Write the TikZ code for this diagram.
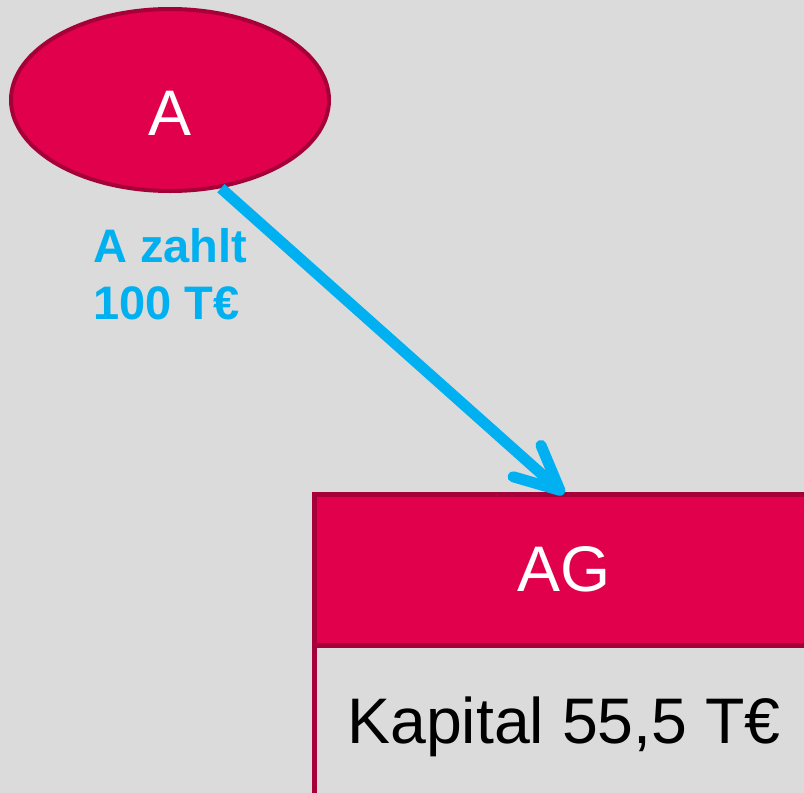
\documentclass[tikz,border=0pt]{standalone}
\usepackage{fontspec}
\setmainfont{Liberation Sans}
\usetikzlibrary{positioning,shapes.geometric,arrows.meta}
\definecolor{dbrot}{HTML}{E0004B}
\definecolor{dbrand}{HTML}{A6003A}
\definecolor{zahlblau}{HTML}{00B0F0}
\definecolor{hgrund}{HTML}{DBDBDB}

\begin{document}
\begin{tikzpicture}[x=0.5pt,y=-0.5pt,
   gross/.style={font=\fontsize{32.2}{39}\selectfont},
   person/.style={ellipse,draw=dbrand,fill=dbrot,line width=2pt,minimum width=159pt,
      minimum height=91pt,inner sep=0pt,text=white,gross,text height=35pt,text depth=0pt},
   kopf/.style={rectangle,draw=dbrand,fill=dbrot,line width=2.5pt,minimum width=249.5pt,
      minimum height=75.5pt,outer sep=0pt,text=white,gross,text depth=0pt},
   feld/.style={kopf,fill=none,text=black},
   zahlung/.style={draw=zahlblau,line width=5.5pt,
      -{Straight Barb[length=22pt,width=21pt,line cap=round,line join=round]}},
   node distance=0pt]
 \useasboundingbox (0,0) rectangle (804,793);
 \clip (0,0) rectangle (804,793);
 \fill[hgrund] (0,0) rectangle (804,793);

 %Gesellschafter
 \node[person] (a) at (170,100) {A};

 %AG mit Kapital
 \node[kopf] (ag) at (564,569.5) {AG};
 \node[feld, below=of ag] (kapital) {Kapital 55,5 T€};

 %Zahlung
 \draw[zahlung] (a.-60) -- (ag.north);
 \node[anchor=north west,inner sep=0pt,align=left,text=zahlblau,
       font=\fontsize{23.5}{28.5}\selectfont\bfseries] (zahlt) at (93,228) {A zahlt\\100 T€};

\end{tikzpicture}
\end{document}
